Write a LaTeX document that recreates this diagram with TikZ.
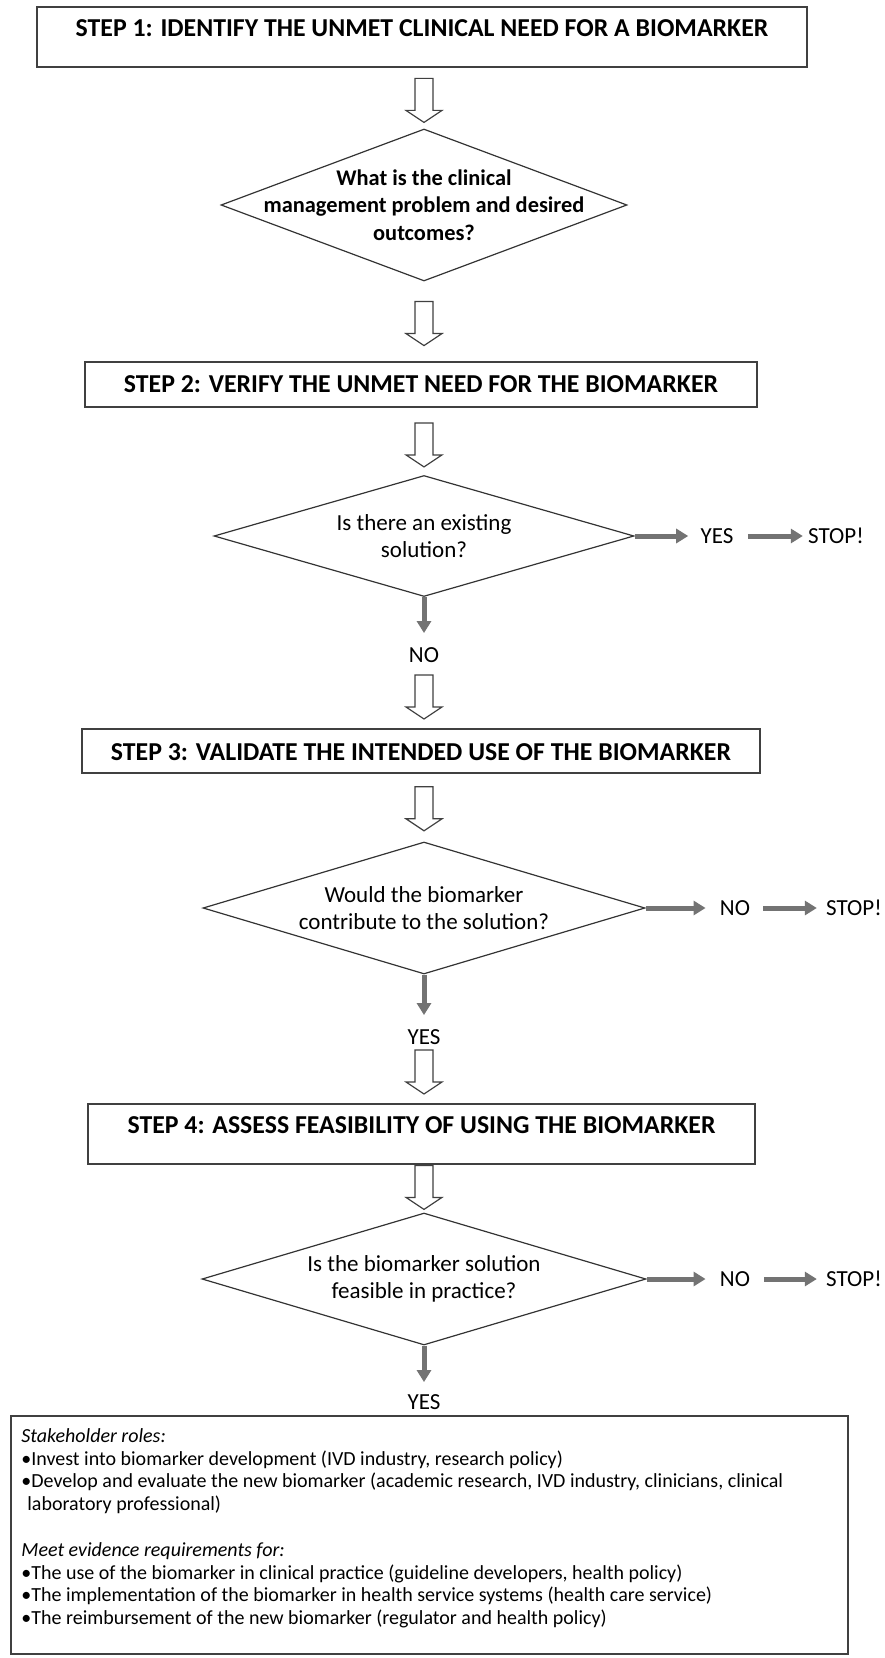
\documentclass[tikz,border=0pt]{standalone}
\usepackage{fontspec}
\setmainfont{Carlito}
\usepackage{tikz}
\usetikzlibrary{positioning,arrows.meta,shapes.geometric,calc}

\begin{document}
\begin{tikzpicture}[x=0.5pt,y=-0.5pt,
  stepbox/.style={draw=black!75, line width=0.9pt, inner sep=0pt, anchor=north,
    font=\fontsize{12.9}{15}\selectfont\bfseries},
  decision/.style={draw=black!80, line width=0.6pt, diamond, inner sep=0pt},
  qtext/.style={align=center, inner sep=0pt, font=\fontsize{11.5}{13.5}\selectfont},
  flag/.style={inner sep=0pt, font=\fontsize{11.5}{13.5}\selectfont},
  grayarrow/.style={draw=black!55, line width=2.5pt, -{Triangle[length=6pt,width=7pt]}},
  hollowdown/.pic={\draw[black!75, line width=0.6pt, fill=white]
    (-9,0) -- (9,0) -- (9,32) -- (18,32) -- (0,44) -- (-18,32) -- (-9,32) -- cycle;}]
\useasboundingbox (0,0) rectangle (884,1658);

% Step 1
\node[stepbox, minimum width=385pt, text height=14.6pt, text depth=15.4pt] (s1) at (422,6)
  {STEP 1: IDENTIFY THE UNMET CLINICAL NEED FOR A BIOMARKER};
\node[decision, minimum width=203pt, minimum height=76pt] (d1) at (424,205) {};
\node[qtext, font=\fontsize{11.2}{13.75}\selectfont\bfseries] (q1) at (d1)
  {What is the clinical\\management problem and desired\\outcomes?};
\pic at ($(d1.north)+(0,-50)$) {hollowdown};
\pic at ($(d1.south)+(0,20)$) {hollowdown};

% Step 2
\node[stepbox, minimum width=336pt, text height=15.2pt, text depth=7.3pt] (s2) at (421,361)
  {STEP 2: VERIFY THE UNMET NEED FOR THE BIOMARKER};
\node[decision, minimum width=210pt, minimum height=60.5pt] (d2) at (424,536) {};
\node[qtext] (q2) at (d2) {Is there an existing\\solution?};
\pic at ($(d2.north)+(0,-52)$) {hollowdown};
\node[flag] (y2) at (717,536) {YES};
\node[flag] (x2) at (836,536) {STOP!};
\draw[grayarrow, shorten >=6pt] (d2.east) -- (y2.west);
\draw[grayarrow, shorten <=7pt, shorten >=2.5pt] (y2.east) -- (x2.west);
\node[flag] (n2) at (424,655) {NO};
\draw[grayarrow, shorten >=7pt] (d2.south) -- (n2.north);
\pic at ($(n2)+(0,20)$) {hollowdown};

% Step 3
\node[stepbox, minimum width=339pt, text height=16pt, text depth=6pt] (s3) at (421,728)
  {STEP 3: VALIDATE THE INTENDED USE OF THE BIOMARKER};
\pic at ($(s3.south)+(3,13)$) {hollowdown};
\node[decision, minimum width=221pt, minimum height=66pt] (d3) at (424,908) {};
\node[qtext] (q3) at (d3) {Would the biomarker\\contribute to the solution?};
\node[flag] (n3) at (735,908) {NO};
\node[flag] (x3) at (854,908) {STOP!};
\draw[grayarrow, shorten >=7pt] (d3.east) -- (n3.west);
\draw[grayarrow, shorten <=6.5pt, shorten >=4.5pt] (n3.east) -- (x3.west);
\node[flag] (y3) at (424,1037) {YES};
\draw[grayarrow, shorten >=7pt] (d3.south) -- (y3.north);
\pic at ($(y3)+(0,13)$) {hollowdown};

% Step 4
\node[stepbox, minimum width=333.5pt, text height=15pt, text depth=15pt] (s4) at (421.5,1103)
  {STEP 4: ASSESS FEASIBILITY OF USING THE BIOMARKER};
\node[decision, minimum width=222pt, minimum height=66pt] (d4) at (424,1279) {};
\node[qtext] (q4) at (d4) {Is the biomarker solution\\feasible in practice?};
\pic at ($(d4.north)+(0,-47)$) {hollowdown};
\node[flag] (n4) at (735,1279) {NO};
\node[flag] (x4) at (854,1279) {STOP!};
\draw[grayarrow, shorten >=7pt] (d4.east) -- (n4.west);
\draw[grayarrow, shorten <=7pt, shorten >=4.5pt] (n4.east) -- (x4.west);
\node[flag] (y4) at (424,1402) {YES};
\draw[grayarrow, shorten >=6pt] (d4.south) -- (y4.north);

% Stakeholder box
\node[draw=black!75, line width=0.9pt, inner sep=0pt, anchor=north west,
  minimum width=418.5pt, minimum height=119pt] (roles) at (10,1415) {};
\node[anchor=north west, inner sep=0pt, align=left,
  font=\fontsize{10}{11.4}\selectfont] (rolestext) at (21,1428)
  {\textit{Stakeholder roles:}\\
   •Invest into biomarker development (IVD industry, research policy)\\
   •Develop and evaluate the new biomarker (academic research, IVD industry, clinicians, clinical\\
   \hspace*{3pt}laboratory professional)\\[11.4pt]
   \textit{Meet evidence requirements for:}\\
   •The use of the biomarker in clinical practice (guideline developers, health policy)\\
   •The implementation of the biomarker in health service systems (health care service)\\
   •The reimbursement of the new biomarker (regulator and health policy)};
\end{tikzpicture}
\end{document}
